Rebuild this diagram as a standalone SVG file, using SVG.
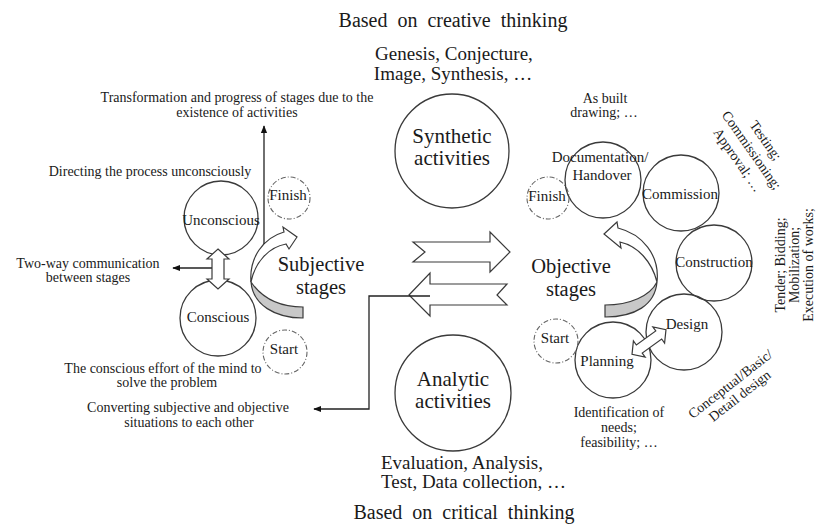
<svg xmlns="http://www.w3.org/2000/svg" width="819" height="524" viewBox="0 0 819 524">
<style>
  text { font-family: "Liberation Serif", "Times New Roman", serif; fill: #1a1a1a; }
  .s { font-size: 14px; }
  .n { font-size: 15px; }
  .b { font-size: 21px; }
  .bs { font-size: 20.5px; }
  .h { font-size: 20px; word-spacing: 5px; }
  .m { font-size: 19px; }
  .c { text-anchor: middle; }
  .node { fill: none; stroke: #3a3a3a; stroke-width: 1.3; }
  .dash { fill: none; stroke: #666; stroke-width: 1.1; stroke-dasharray: 5 2 1 2; }
  .ln { fill: none; stroke: #222; stroke-width: 1.3; }
  .hollow { fill: #fff; stroke: #3a3a3a; stroke-width: 1.2; stroke-linejoin: miter; }
  .back { fill: #c8c8c8; stroke: #3a3a3a; stroke-width: 1.2; }
</style>
<defs>
  <marker id="ah" viewBox="0 0 10 10" refX="9" refY="5" markerWidth="8" markerHeight="8" markerUnits="userSpaceOnUse" orient="auto">
    <path d="M0,1 L10,5 L0,9 Z" fill="#111"/>
  </marker>
</defs>

<!-- headings -->
<g id="creative-heading">
  <text class="h c" x="453" y="27">Based on creative thinking</text>
  <text class="m c" x="454" y="60">Genesis, Conjecture,</text>
  <text class="m c" x="453" y="80">Image, Synthesis, …</text>
</g>
<g id="critical-heading">
  <text class="m" x="381" y="469">Evaluation, Analysis,</text>
  <text class="m" x="381" y="488">Test, Data collection, …</text>
  <text class="h c" x="464" y="519">Based on critical thinking</text>
</g>

<!-- activities -->
<g id="synthetic">
  <circle class="node" cx="452" cy="151" r="57"/>
  <text class="b c" x="452" y="143">Synthetic</text>
  <text class="b c" x="452" y="165">activities</text>
</g>
<g id="analytic">
  <circle class="node" cx="453" cy="393" r="58"/>
  <text class="b c" x="453" y="386">Analytic</text>
  <text class="b c" x="453" y="408">activities</text>
</g>

<!-- subjective stages -->
<g id="unconscious">
  <circle class="node" cx="221" cy="218" r="37"/>
  <text class="n c" x="221" y="225">Unconscious</text>
</g>
<g id="conscious">
  <circle class="node" cx="218" cy="318" r="38"/>
  <text class="n c" x="218" y="322">Conscious</text>
</g>
<g id="finish-subjective">
  <circle class="dash" cx="289" cy="198" r="21"/>
  <text class="n c" x="288" y="200">Finish</text>
</g>
<g id="start-subjective">
  <circle class="dash" cx="285" cy="352" r="22"/>
  <text class="n c" x="284" y="354">Start</text>
</g>
<g id="subjective-cycle">
  <path class="back" d="M251,282 C253,305 275,318 303,318 L303,307 C279,307 262,298 251,282 Z"/>
  <path class="hollow" d="M251,282 C249,258 263,238 284,232 L283,227 L297,237 L289,249 L286,244 C269,247 255,262 251,282 Z"/>
  <text class="bs c" x="321" y="271">Subjective</text>
  <text class="bs c" x="321" y="294">stages</text>
</g>

<!-- objective stages -->
<g id="documentation">
  <circle class="node" cx="603" cy="180" r="38"/>
  <text class="n c" x="600" y="162">Documentation/</text>
  <text class="n c" x="602" y="180">Handover</text>
</g>
<g id="finish-objective">
  <circle class="dash" cx="548" cy="198" r="21"/>
  <text class="n c" x="547" y="201">Finish</text>
</g>
<g id="commission">
  <circle class="node" cx="681" cy="193" r="38"/>
  <text class="n c" x="680" y="199">Commission</text>
</g>
<g id="construction">
  <circle class="node" cx="714" cy="263" r="38"/>
  <text class="n c" x="714" y="267">Construction</text>
</g>
<g id="design">
  <circle class="node" cx="684" cy="332" r="38"/>
  <text class="n c" x="687" y="329">Design</text>
</g>
<g id="planning">
  <circle class="node" cx="613" cy="360" r="38"/>
  <text class="n c" x="607" y="366">Planning</text>
</g>
<g id="start-objective">
  <circle class="dash" cx="556" cy="341" r="22"/>
  <text class="n c" x="555" y="343">Start</text>
</g>
<g id="objective-cycle">
  <path class="back" d="M657,282 C655,305 635,317 605,317 L605,305 C630,305 650,296 657,282 Z"/>
  <path class="hollow" d="M657,282 C660,255 642,234 618,228 L617,222 L604,234 L621,248 L620,242 C638,246 652,262 657,282 Z"/>
  <text class="bs c" x="571" y="273">Objective</text>
  <text class="bs c" x="571" y="296">stages</text>
</g>

<!-- annotations -->
<g id="notes-left">
  <text class="s c" x="237" y="102">Transformation and progress of stages due to the</text>
  <text class="s c" x="237" y="117">existence of activities</text>
  <text class="s c" x="150" y="176">Directing the process unconsciously</text>
  <text class="s c" x="88" y="268">Two-way communication</text>
  <text class="s c" x="88" y="282">between stages</text>
  <text class="s c" x="163" y="373">The conscious effort of the mind to</text>
  <text class="s c" x="167" y="387">solve the problem</text>
  <text class="s c" x="188" y="412">Converting subjective and objective</text>
  <text class="s c" x="189" y="427">situations to each other</text>
</g>
<g id="notes-right">
  <text class="s c" x="605" y="103">As built</text>
  <text class="s c" x="604" y="117">drawing; …</text>
  <g transform="translate(752,150) rotate(55)">
    <text class="s c" x="0" y="-12">Testing;</text>
    <text class="s c" x="0" y="5">Commissioning;</text>
    <text class="s c" x="0" y="22">Approval; …</text>
  </g>
  <g transform="rotate(-90)">
    <text class="s c" x="-265" y="785">Tender; Bidding;</text>
    <text class="s c" x="-265" y="799">Mobilization;</text>
    <text class="s c" x="-265" y="813">Execution of works;</text>
  </g>
  <g transform="translate(735,390) rotate(-38)">
    <text class="s c" x="0" y="-3">Conceptual/Basic/</text>
    <text class="s c" x="0" y="12">Detail design</text>
  </g>
  <text class="s c" x="619" y="417">Identification of</text>
  <text class="s c" x="619" y="432">needs;</text>
  <text class="s c" x="619" y="447">feasibility; …</text>
</g>

<!-- connectors -->
<g id="connectors">
  <line class="ln" x1="264" y1="244" x2="264" y2="126" marker-end="url(#ah)"/>
  <line class="ln" x1="212" y1="268" x2="173" y2="268" marker-end="url(#ah)"/>
  <path class="hollow" d="M218,249 L229,259 L224,259 L224,279 L229,279 L218,289 L207,279 L212,279 L212,259 L207,259 Z"/>
  <path class="hollow" transform="translate(649,342) rotate(-36)" d="M-21,0 L-12,-10 L-12,-5 L12,-5 L12,-10 L21,0 L12,10 L12,5 L-12,5 L-12,10 Z"/>
  <path class="hollow" d="M413,242 L490,242 L490,232 L510,252 L490,272 L490,262 L413,262 L425,252 Z"/>
  <path class="hollow" d="M409,295 L430,273 L430,284 L507,284 L497,295 L507,305 L430,305 L430,316 Z"/>
  <path class="ln" d="M430,296 H369 V409 H314" marker-end="url(#ah)"/>
</g>
</svg>
